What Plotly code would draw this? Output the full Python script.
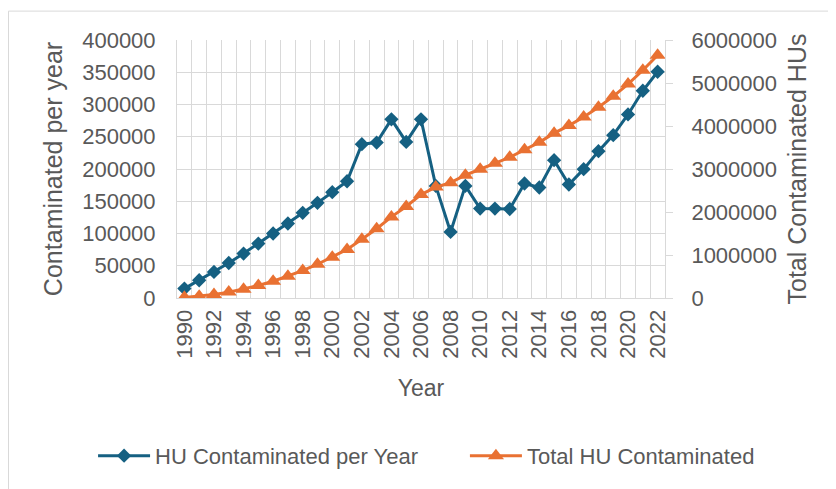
import plotly.graph_objects as go

years = list(range(1990, 2023))
per_year = [14600, 27500, 40400, 54300, 68900, 84400, 100000, 115500, 132000,
            147500, 164000, 181000, 238500, 241000, 277000, 242000, 277000,
            173800, 102400, 173800, 138700, 138700, 138000, 177500, 171300,
            213700, 176000, 199800, 227700, 252500, 284600, 321300, 350800]
total = [14600, 42100, 82500, 136800, 205700, 290100, 390100, 505600, 637600,
         785100, 949100, 1130100, 1368600, 1609600, 1886600, 2128600, 2405600,
         2579400, 2681800, 2855600, 2994300, 3133000, 3271000, 3448500, 3619800,
         3833500, 4009500, 4209300, 4437000, 4689500, 4974100, 5295400, 5646200]
tick_years = [y for y in years if y % 2 == 0]
tick_text = [str(y) for y in tick_years]

BLUE = "#156082"
ORANGE = "#E97132"
GRID = "#d9d9d9"
TXT = "#595959"
FONT = "Liberation Sans, Arial, sans-serif"

fig = go.Figure()
fig.add_trace(go.Scatter(
    x=years, y=per_year, name="HU Contaminated per Year", mode="lines+markers",
    line=dict(color=BLUE, width=3), marker=dict(symbol="diamond", size=11, color=BLUE),
    yaxis="y", legend="legend"))
fig.add_trace(go.Scatter(
    x=years, y=total, name="Total HU Contaminated", mode="lines+markers",
    line=dict(color=ORANGE, width=3), marker=dict(symbol="triangle-up", size=14, color=ORANGE),
    yaxis="y2", legend="legend2"))

legend_common = dict(orientation="h", xanchor="left", y=-0.612, yanchor="middle",
                     font=dict(family=FONT, size=22, color=TXT), itemwidth=52,
                     bgcolor="rgba(0,0,0,0)")

fig.update_layout(
    width=828, height=481,
    margin=dict(l=169, r=171, t=32, b=191, autoexpand=False),
    paper_bgcolor="white", plot_bgcolor="white",
    font=dict(family=FONT, color=TXT, size=22),
    showlegend=True,
    legend=dict(x=-0.172, **legend_common),
    legend2=dict(x=0.590, **legend_common),
    xaxis=dict(
        type="linear", range=[1989.5, 2022.5], tickmode="array",
        tickvals=tick_years, ticktext=tick_text, tickangle=-90,
        showgrid=False, showline=True, linecolor=GRID, linewidth=1,
        ticks="", ticklabelstandoff=2, zeroline=False,
        minor=dict(tickmode="linear", tick0=1989.5, dtick=1, showgrid=True,
                   gridcolor=GRID, gridwidth=1, ticks=""),
        title=dict(text="Year", font=dict(size=23, color=TXT), standoff=22),
        automargin=False),
    yaxis=dict(
        range=[0, 400000], dtick=50000, tickformat="d",
        showgrid=True, gridcolor=GRID, gridwidth=1,
        showline=True, linecolor=GRID, zeroline=False, ticks="",
        ticklabelstandoff=16,
        title=dict(text="Contaminated per year", font=dict(size=25, color=TXT), standoff=12),
        automargin=False),
    yaxis2=dict(
        overlaying="y", side="right", range=[0, 6000000], dtick=1000000, tickformat="d",
        showgrid=False, showline=True, linecolor=GRID, zeroline=False,
        ticks="outside", ticklen=7, tickcolor=GRID, ticklabelstandoff=14,
        title=dict(text="Total Contaminated HUs", font=dict(size=25, color=TXT), standoff=12),
        automargin=False),
    shapes=[dict(type="rect", xref="paper", yref="paper", x0=-0.3453, x1=1.6,
                 y0=-1.2, y1=1.112, line=dict(color=GRID, width=1), layer="below")],
)

fig.write_html("out.html")
